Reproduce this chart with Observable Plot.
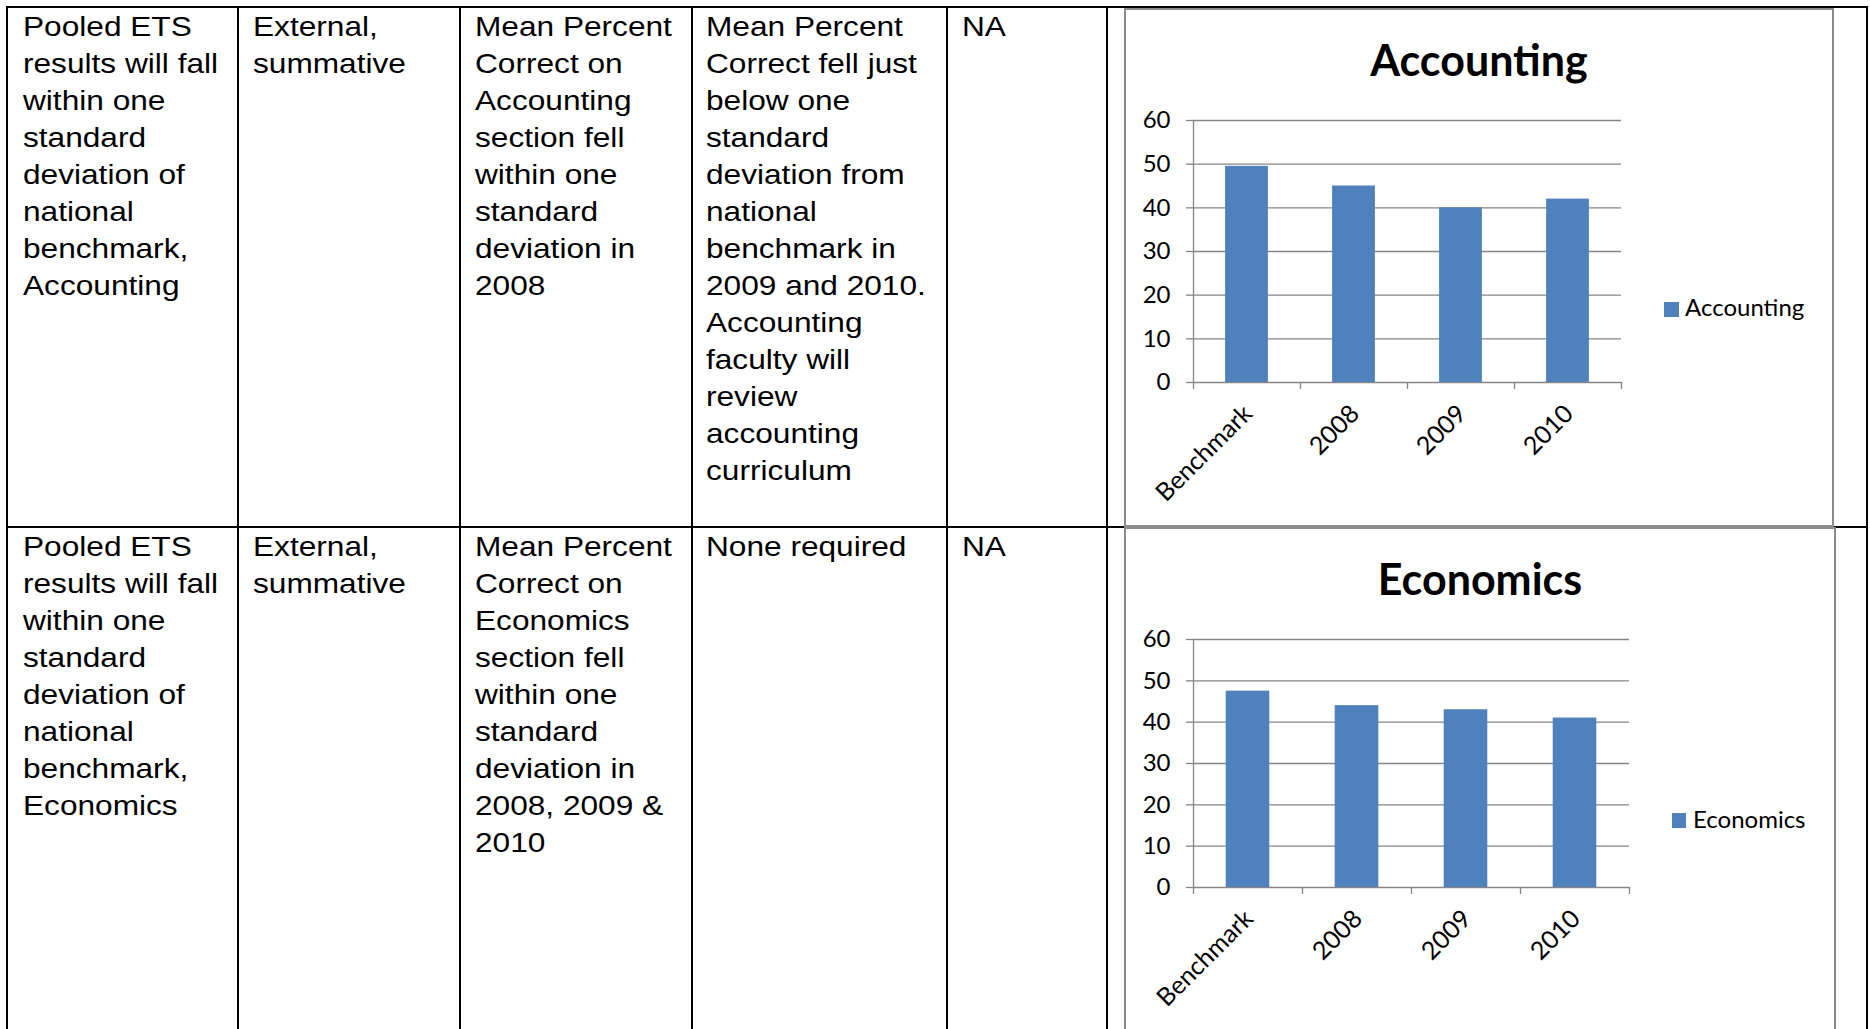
<!DOCTYPE html>
<html><head><meta charset="utf-8">
<script src="https://cdn.jsdelivr.net/npm/d3@7"></script>
<script src="https://cdn.jsdelivr.net/npm/@observablehq/plot@0.6"></script>
<style>
html,body{margin:0;padding:0;background:#fff;width:1870px;height:1029px;overflow:hidden;}
#page{position:relative;width:1870px;height:1029px;overflow:hidden;}
.ln{position:absolute;background:#000;}
.cell{position:absolute;font-family:"Liberation Sans",Arial,sans-serif;font-size:27.5px;line-height:37px;color:#000;white-space:nowrap;transform:scaleX(1.15);transform-origin:0 0;}
.box{position:absolute;border:2px solid #8c8c8c;box-sizing:border-box;background:#fff;}
.chart{position:absolute;}
.title{position:absolute;font-family:Lato,sans-serif;font-weight:700;font-size:43px;line-height:1;text-align:center;white-space:nowrap;color:#000;}
.legend{position:absolute;font-family:Lato,sans-serif;font-size:24px;line-height:1;white-space:nowrap;color:#000;}
.swatch{position:absolute;background:#4F81BD;}
.chart svg g[aria-label^="x-axis"] line,.chart svg g[aria-label^="y-axis"] line,.chart svg g[aria-label$="axis tick"] path{stroke:#868686;stroke-width:1.3px;}
</style>
</head><body><div id="page"></div>
<script>
// ---- data ----
const categories = ["Benchmark", "2008", "2009", "2010"];
const accountingValues = [49.5, 45, 40, 42];
const economicsValues = [47.5, 44, 43, 41];
const yTicks = [0, 10, 20, 30, 40, 50, 60];
const chartTitles = ["Accounting", "Economics"];
const barColor = "#4F81BD";

const row1Text = [
  ["Pooled ETS", "results will fall", "within one", "standard", "deviation of", "national", "benchmark,", "Accounting"],
  ["External,", "summative"],
  ["Mean Percent", "Correct on", "Accounting", "section fell", "within one", "standard", "deviation in", "2008"],
  ["Mean Percent", "Correct fell just", "below one", "standard", "deviation from", "national", "benchmark in", "2009 and 2010.", "Accounting", "faculty will", "review", "accounting", "curriculum"],
  ["NA"]
];
const row2Text = [
  ["Pooled ETS", "results will fall", "within one", "standard", "deviation of", "national", "benchmark,", "Economics"],
  ["External,", "summative"],
  ["Mean Percent", "Correct on", "Economics", "section fell", "within one", "standard", "deviation in", "2008, 2009 &", "2010"],
  ["None required"],
  ["NA"]
];

// ---- layout ----
const page = document.getElementById("page");
function el(cls, css, html) {
  const d = document.createElement("div");
  d.className = cls;
  Object.assign(d.style, css);
  if (html != null) d.innerHTML = html;
  page.appendChild(d);
  return d;
}

// table lines
const vLines = [6, 237, 459, 691, 946, 1106, 1866];
vLines.forEach(x => el("ln", {left: x + "px", top: "6px", width: "2px", height: "1030px"}));
el("ln", {left: "6px", top: "6px", width: "1862px", height: "2px"});
el("ln", {left: "6px", top: "526px", width: "1862px", height: "2px"});

// text cells
const textX = [23, 253, 475, 706, 962];
row1Text.forEach((lines, i) => el("cell", {left: textX[i] + "px", top: "8px"}, lines.join("<br>")));
row2Text.forEach((lines, i) => el("cell", {left: textX[i] + "px", top: "528px"}, lines.join("<br>")));

function barChart(values, cfg) {
  const data = categories.map((c, i) => ({category: c, index: i, value: values[i]}));
  return Plot.plot({
    width: cfg.width,
    height: cfg.height,
    marginLeft: cfg.ml,
    marginRight: cfg.mr,
    marginTop: cfg.mt,
    marginBottom: cfg.mb,
    style: {fontFamily: "Lato, sans-serif", fontSize: "24px", color: "#000", background: "transparent", overflow: "visible"},
    x: {type: "linear", domain: [0, categories.length], ticks: d3.range(categories.length + 1), tickSize: 7, tickFormat: () => "", label: null},
    y: {domain: [0, 60], ticks: yTicks, tickSize: 7, tickPadding: 16, label: null},
    marks: [
      Plot.ruleY(yTicks, {stroke: "#868686", strokeWidth: 1.3}),
      Plot.ruleX([0], {stroke: "#868686", strokeWidth: 1.3}),
      Plot.rect(data, {x1: d => d.index + 0.3, x2: d => d.index + 0.7, y1: 0, y2: "value", fill: barColor}),
      Plot.text(data, {x: d => d.index + 0.5, y: 0, text: "category", rotate: -45, textAnchor: "end", dx: 1, dy: 27, fontSize: 25})
    ]
  });
}

// chart 1: Accounting
el("box", {left: "1124px", top: "8px", width: "710px", height: "519px"});
const c1 = el("chart", {left: "1126px", top: "10px"});
c1.appendChild(barChart(accountingValues, {width: 706, height: 515, ml: 67, mr: 211, mt: 110, mb: 143}));
el("title", {left: "1124px", top: "38px", width: "710px"}, chartTitles[0]);
el("swatch", {left: "1664px", top: "302px", width: "15px", height: "15px"});
el("legend", {left: "1685px", top: "295px"}, chartTitles[0]);

// chart 2: Economics
el("box", {left: "1124px", top: "527px", width: "712px", height: "520px"});
const c2 = el("chart", {left: "1128px", top: "529px"});
c2.appendChild(barChart(economicsValues, {width: 706, height: 500, ml: 65, mr: 205, mt: 110, mb: 142}));
el("title", {left: "1124px", top: "557px", width: "712px"}, chartTitles[1]);
el("swatch", {left: "1672px", top: "813px", width: "14px", height: "15px"});
el("legend", {left: "1693px", top: "807px"}, chartTitles[1]);
</script>
</body></html>
